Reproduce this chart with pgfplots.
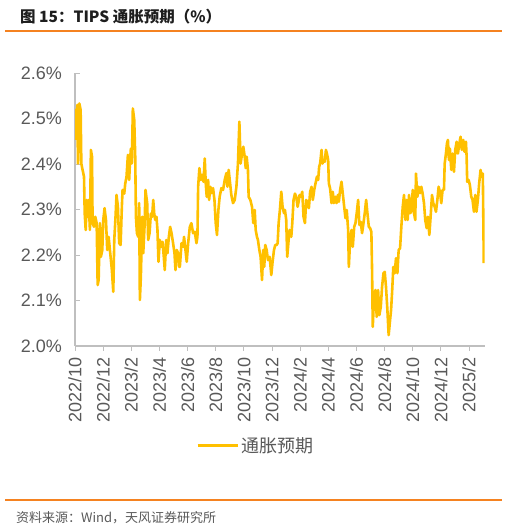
\documentclass[border=0pt]{standalone}
\usepackage{pgfplots}
\pgfplotsset{compat=1.18}
\usepackage{pgfplotstable}
\usepackage{fontspec}
\setmainfont{Liberation Sans}
\newfontfamily\cjk{Noto Sans CJK SC}

\definecolor{gold}{RGB}{255,192,0}
\definecolor{txtgray}{RGB}{89,89,89}
\definecolor{titlegray}{RGB}{30,30,30}
\definecolor{axgray}{RGB}{191,191,191}
\definecolor{ruleorange}{RGB}{245,130,32}

% TIPS breakeven inflation; x = months since 2022/10
\pgfplotstableread{
m v
0.00 2.453
0.02 2.519
0.07 2.475
0.17 2.530
0.21 2.401
0.31 2.533
0.40 2.519
0.45 2.401
0.54 2.387
0.64 2.372
0.69 2.291
0.76 2.255
0.83 2.321
0.90 2.284
0.97 2.321
1.06 2.255
1.13 2.431
1.21 2.416
1.25 2.270
1.35 2.262
1.44 2.284
1.54 2.270
1.61 2.134
1.68 2.145
1.77 2.270
1.84 2.196
1.94 2.211
2.01 2.277
2.10 2.303
2.20 2.277
2.29 2.211
2.39 2.240
2.48 2.211
2.53 2.196
2.62 2.167
2.72 2.119
2.79 2.233
2.88 2.284
2.95 2.332
3.05 2.306
3.14 2.226
3.24 2.222
3.33 2.306
3.38 2.343
3.50 2.335
3.57 2.357
3.66 2.372
3.76 2.420
3.85 2.365
3.90 2.401
3.97 2.434
4.04 2.401
4.11 2.522
4.21 2.497
4.28 2.416
4.33 2.284
4.40 2.248
4.49 2.240
4.56 2.314
4.61 2.101
4.68 2.152
4.78 2.284
4.85 2.204
4.94 2.262
5.01 2.343
5.13 2.314
5.20 2.233
5.30 2.248
5.39 2.291
5.48 2.284
5.56 2.321
5.63 2.291
5.70 2.277
5.79 2.284
5.86 2.255
5.93 2.185
6.03 2.233
6.12 2.218
6.22 2.229
6.31 2.196
6.38 2.167
6.48 2.233
6.57 2.204
6.67 2.240
6.76 2.262
6.86 2.248
6.97 2.226
7.07 2.204
7.14 2.167
7.23 2.211
7.33 2.204
7.40 2.174
7.45 2.174
7.57 2.226
7.68 2.218
7.75 2.240
7.85 2.211
7.94 2.185
8.04 2.226
8.16 2.262
8.27 2.270
8.39 2.248
8.51 2.251
8.63 2.226
8.70 2.240
8.75 2.350
8.84 2.391
8.94 2.365
9.03 2.376
9.13 2.361
9.22 2.412
9.29 2.358
9.36 2.328
9.46 2.365
9.53 2.321
9.62 2.350
9.69 2.336
9.81 2.347
9.91 2.321
10.00 2.270
10.09 2.244
10.19 2.299
10.28 2.328
10.40 2.347
10.52 2.343
10.64 2.365
10.76 2.380
10.83 2.350
10.92 2.387
11.02 2.358
11.11 2.332
11.23 2.314
11.35 2.321
11.47 2.350
11.58 2.401
11.68 2.493
11.77 2.401
11.87 2.423
11.96 2.438
12.06 2.416
12.13 2.391
12.20 2.416
12.29 2.387
12.34 2.328
12.46 2.321
12.58 2.306
12.67 2.270
12.77 2.299
12.84 2.255
12.93 2.240
13.00 2.233
13.10 2.211
13.19 2.196
13.29 2.145
13.38 2.211
13.45 2.174
13.52 2.222
13.62 2.211
13.71 2.189
13.83 2.196
13.95 2.156
14.04 2.185
14.14 2.211
14.23 2.222
14.33 2.222
14.40 2.226
14.47 2.270
14.56 2.299
14.66 2.339
14.75 2.306
14.85 2.292
14.92 2.299
15.01 2.277
15.08 2.196
15.18 2.233
15.25 2.255
15.37 2.240
15.44 2.270
15.53 2.321
15.63 2.335
15.72 2.328
15.82 2.306
15.89 2.317
15.96 2.332
16.05 2.328
16.15 2.339
16.24 2.284
16.34 2.270
16.43 2.321
16.53 2.314
16.62 2.303
16.71 2.339
16.81 2.350
16.90 2.321
17.00 2.343
17.09 2.357
17.19 2.372
17.28 2.365
17.35 2.394
17.42 2.401
17.52 2.431
17.59 2.401
17.66 2.409
17.75 2.405
17.83 2.431
17.90 2.423
17.99 2.409
18.04 2.357
18.13 2.346
18.23 2.314
18.32 2.339
18.39 2.314
18.49 2.328
18.58 2.314
18.68 2.332
18.75 2.317
18.84 2.343
18.94 2.361
19.03 2.335
19.13 2.306
19.22 2.281
19.31 2.299
19.41 2.255
19.46 2.174
19.55 2.233
19.65 2.255
19.74 2.218
19.84 2.262
19.93 2.270
20.02 2.292
20.12 2.321
20.21 2.266
20.31 2.273
20.40 2.248
20.50 2.270
20.59 2.292
20.69 2.321
20.78 2.292
20.88 2.262
20.97 2.259
21.06 2.251
21.11 2.167
21.16 2.042
21.25 2.108
21.35 2.123
21.44 2.064
21.54 2.123
21.63 2.068
21.73 2.086
21.82 2.130
21.92 2.160
22.01 2.163
22.10 2.130
22.20 2.079
22.27 2.035
22.29 2.024
22.39 2.057
22.46 2.079
22.53 2.116
22.62 2.174
22.72 2.160
22.81 2.193
22.91 2.160
23.00 2.211
23.10 2.215
23.19 2.262
23.29 2.306
23.38 2.332
23.48 2.277
23.57 2.321
23.64 2.277
23.74 2.332
23.83 2.292
23.92 2.299
24.00 2.343
24.09 2.292
24.18 2.277
24.23 2.379
24.33 2.328
24.42 2.350
24.52 2.336
24.61 2.350
24.70 2.336
24.80 2.314
24.89 2.277
24.99 2.259
25.08 2.284
25.18 2.244
25.27 2.284
25.37 2.332
25.46 2.314
25.56 2.306
25.65 2.295
25.75 2.321
25.84 2.350
25.93 2.339
26.03 2.314
26.12 2.343
26.22 2.343
26.27 2.401
26.36 2.423
26.43 2.445
26.50 2.453
26.57 2.409
26.64 2.434
26.74 2.387
26.83 2.423
26.93 2.383
27.02 2.431
27.12 2.449
27.21 2.423
27.31 2.445
27.40 2.460
27.49 2.431
27.59 2.453
27.68 2.427
27.78 2.449
27.83 2.416
27.87 2.361
27.97 2.365
28.06 2.354
28.16 2.328
28.25 2.321
28.35 2.295
28.44 2.332
28.53 2.295
28.63 2.321
28.72 2.357
28.82 2.387
28.91 2.372
28.98 2.379
29.05 2.182
}\tipsdata

\begin{document}
\begin{tikzpicture}
\useasboundingbox (0bp,0bp) rectangle (508bp,-530bp);

\begin{axis}[
  at={(75bp,-346bp)}, anchor=south west,
  scale only axis, width=409.5bp, height=273bp,
  xmin=0, xmax=29.1, ymin=2.0, ymax=2.6,
  axis x line*=bottom, axis y line*=left,
  axis line style={axgray, line width=1.2bp, -},
  xtick={0,2,...,28},
  xticklabels={2022/10,2022/12,2023/2,2023/4,2023/6,2023/8,2023/10,2023/12,2024/2,2024/4,2024/6,2024/8,2024/10,2024/12,2025/2},
  ytick={2.0,2.1,2.2,2.3,2.4,2.5,2.6},
  yticklabels={2.0\%,2.1\%,2.2\%,2.3\%,2.4\%,2.5\%,2.6\%},
  xtick align=outside, ytick align=inside,
  major tick length=4.5bp,
  tick style={axgray, line width=1bp},
  tick label style={font=\fontsize{18bp}{20bp}\selectfont, text=txtgray},
  xticklabel style={rotate=90, anchor=east, inner sep=0pt, xshift=-7bp},
  yticklabel style={inner sep=0pt, xshift=-13bp},
  legend style={at={(0.441,-0.366)}, anchor=center, draw=none, fill=none,
    font=\fontsize{18bp}{20bp}\selectfont\cjk, text=txtgray, inner sep=0pt},
  legend image code/.code={\draw[gold, line width=3bp] (0bp,0bp) -- (40bp,0bp);},
  legend cell align=left,
]
\addplot[gold, line width=2.6bp, line join=round] table[x=m, y=v] {\tipsdata};
\addlegendentry{通胀预期}
\end{axis}

% header and footer
\draw[ruleorange, line width=1.3bp] (5bp,-31bp) -- (502bp,-31bp);
\draw[ruleorange, line width=1.3bp] (5bp,-500bp) -- (502bp,-500bp);
\node[anchor=west, inner sep=0pt, text=titlegray, at={(20bp,-17bp)}] {\fontsize{15.5bp}{18bp}\selectfont\cjk\bfseries 图\ 15：TIPS\ 通胀预期（\%）};
\node[anchor=west, inner sep=0pt, text=txtgray, at={(16bp,-518bp)}] {\fontsize{13bp}{16bp}\selectfont\cjk 资料来源：Wind，天风证券研究所};
\end{tikzpicture}
\end{document}
